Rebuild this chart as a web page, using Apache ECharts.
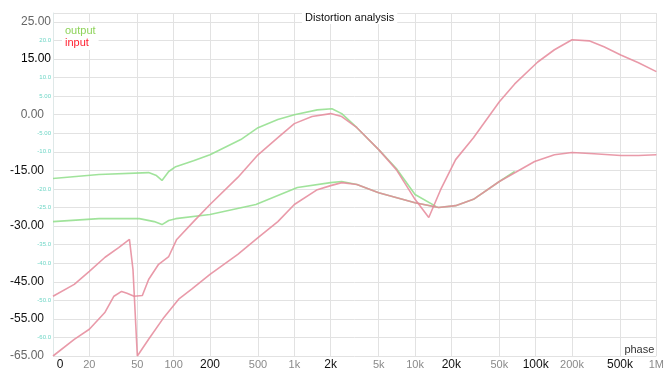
<!DOCTYPE html>
<html>
<head>
<meta charset="utf-8">
<script src="https://cdn.jsdelivr.net/npm/echarts@6/dist/echarts.min.js"></script>
<style>
  html, body { margin: 0; padding: 0; background: #fff; }
  #chart { width: 667px; height: 371px; }
</style>
</head>
<body>
<div id="chart"></div>
<script>
// x tick frequencies (Hz) and their labels; the first tick reads "0"
var xTickFreqs = [10, 20, 50, 100, 200, 500, 1e3, 2e3, 5e3, 1e4, 2e4, 5e4, 1e5, 2e5, 5e5, 1e6];
var xTickLabels = ["0", "20", "50", "100", "200", "500", "1k", "2k", "5k", "10k", "20k", "50k", "100k", "200k", "500k", "1M"];
var xBoldLabels = ["0", "200", "2k", "20k", "100k", "500k"];

// y labels drawn dark; the other 5 dB steps get small cyan labels
var yMajor = [25, 15, 0, -15, -30, -45, -55, -65];

// output, upper curve
var outAFreq = [10, 24, 62, 72, 80, 91, 104, 146, 200, 360, 500, 730, 1000, 1550, 2050, 2470, 3300, 5000, 7000, 10000, 14900];
var outAVal = [-17.2, -16.1, -15.6, -16.4, -17.7, -15.3, -14.0, -12.4, -10.8, -6.7, -3.5, -1.3, 0, 1.3, 1.6, 0.3, -3.5, -9.4, -14.5, -21.5, -24.7];

// output, lower curve
var outBFreq = [10, 24, 52, 69, 80, 91, 104, 200, 480, 1060, 2000, 2470, 3300, 5000, 10000, 15700, 21700, 30500, 50000, 67000];
var outBVal = [-28.8, -28.0, -28.0, -28.8, -29.6, -28.5, -28.0, -26.9, -24.2, -19.6, -18.3, -18.0, -18.8, -21.0, -23.7, -25.0, -24.5, -22.8, -18.0, -15.3];

// input, curve with the spike at ~40 Hz
var inAFreq = [10, 15, 20, 27, 35, 43, 46, 50, 62, 83, 110, 141, 200, 340, 500, 730, 1000, 1550, 2000, 2470, 3300, 5000, 10000, 15700, 21700, 30500, 50000, 98000, 143000, 200000, 305000, 507000, 711000, 1e6];
var inAVal = [-48.9, -45.7, -42.2, -38.4, -35.8, -33.6, -41.7, -65, -60.5, -54.6, -49.7, -47.0, -43.0, -37.6, -33.1, -28.8, -24.2, -20.2, -19.1, -18.3, -18.8, -21.0, -23.7, -25.0, -24.5, -22.8, -18.0, -12.6, -10.8, -10.2, -10.5, -11.0, -11.0, -10.8];

// input, curve with the dip at ~13 kHz
var inBFreq = [10, 15, 20, 27, 32, 37, 41, 47, 55, 62, 75, 91, 106, 146, 200, 340, 500, 730, 1000, 1400, 2000, 2470, 3300, 5000, 7000, 10000, 13000, 16300, 21700, 30500, 50000, 67000, 104000, 143000, 200000, 277000, 368000, 507000, 711000, 1e6];
var inBVal = [-65, -60.5, -57.8, -53.2, -48.9, -47.6, -48.1, -48.9, -48.7, -44.4, -40.3, -38.2, -33.6, -28.8, -24.2, -16.9, -10.8, -6.2, -2.4, -0.5, 0.3, -0.5, -3.5, -9.4, -14.8, -22.8, -27.7, -20.2, -12.1, -6.2, 3.5, 8.3, 14.2, 17.5, 20.2, 19.9, 18.3, 16.1, 14.0, 11.6];

var FONT = "'Liberation Sans', Arial, sans-serif";
var GREEN = "#8fde8a";
var PINK = "#e5889a";

function pts(freqs, vals) {
  return freqs.map(function (f, i) { return [Math.log10(f), vals[i]]; });
}

var xTickPos = xTickFreqs.map(function (f) { return Math.log10(f); });

function lineSeries(name, color, freqs, vals) {
  return {
    name: name,
    type: "line",
    data: pts(freqs, vals),
    showSymbol: false,
    smooth: false,
    lineStyle: { color: color, width: 1.6, opacity: 0.85 },
    itemStyle: { color: color }
  };
}

var chart = echarts.init(document.getElementById("chart"));
chart.setOption({
  animation: false,
  backgroundColor: "#fff",
  textStyle: { fontFamily: FONT },
  title: {
    text: "Distortion analysis",
    left: 302,
    top: 11,
    padding: [1, 3],
    backgroundColor: "#fff",
    textStyle: { fontSize: 11, fontWeight: "normal", color: "#111", fontFamily: FONT }
  },
  legend: {
    orient: "vertical",
    left: 62,
    top: 23,
    padding: [2, 3],
    itemGap: 1,
    itemWidth: 0,
    itemHeight: 0,
    icon: "none",
    backgroundColor: "#fff",
    textStyle: { fontSize: 11, fontFamily: FONT, padding: [0, 0, 0, -5] },
    data: [
      { name: "output", textStyle: { color: "#8ed35a" } },
      { name: "input", textStyle: { color: "#ff1f2f" } }
    ]
  },
  grid: { left: 53, right: 4, top: 13, bottom: 14 },
  xAxis: {
    type: "value",
    min: 1,
    max: 6,
    name: "phase",
    nameLocation: "end",
    nameGap: 0,
    nameTextStyle: { align: "right", verticalAlign: "bottom", fontSize: 11, color: "#333", padding: [0, 2, 1, 0], fontFamily: FONT },
    axisLine: { show: false, onZero: false },
    axisTick: { show: false, customValues: xTickPos },
    axisLabel: {
      customValues: xTickPos,
      margin: 3,
      formatter: function (v) {
        for (var i = 0; i < xTickPos.length; i++) {
          if (Math.abs(xTickPos[i] - v) < 1e-6) {
            var t = xTickLabels[i];
            if (i === 0) return "{z|" + t + "}";
            return xBoldLabels.indexOf(t) >= 0 ? "{b|" + t + "}" : "{g|" + t + "}";
          }
        }
        return "";
      },
      rich: {
        z: { color: "#111", fontSize: 12, fontFamily: FONT, padding: [0, 0, 0, 14] },
        b: { color: "#111", fontSize: 12, fontFamily: FONT },
        g: { color: "#8a8a8a", fontSize: 11, fontFamily: FONT }
      }
    },
    splitLine: { show: true, lineStyle: { color: "#e2e2e2", width: 1 } }
  },
  yAxis: {
    type: "value",
    min: -65,
    max: 27.4,
    interval: 5,
    axisLine: { show: true, lineStyle: { color: "#dfe8e8" } },
    axisTick: { show: false },
    splitLine: { show: true, lineStyle: { color: "#e2e2e2", width: 1 } },
    axisLabel: {
      margin: 1,
      showMaxLabel: false,
      formatter: function (v) {
        if (Math.abs(v / 5 - Math.round(v / 5)) > 1e-6) return "";
        if (yMajor.indexOf(v) >= 0) {
          var s = v.toFixed(2);
          if (v === 15) return "{w|" + s + "}";
          if (v === 25) return "{t|" + s + "}";
          if (v === 0 || v === -65) return "{g|" + s + "}";
          return "{b|" + s + "}";
        }
        var c = Math.abs(v) >= 10 ? v.toFixed(1) : v.toFixed(2);
        return "{c|" + c + "}";
      },
      rich: {
        b: { color: "#111", fontSize: 12, fontFamily: FONT, padding: [0, 8, 0, 0] },
        g: { color: "#666", fontSize: 12, fontFamily: FONT, padding: [0, 8, 0, 0] },
        t: { color: "#666", fontSize: 12, fontFamily: FONT, padding: [0, 1, 0, 0] },
        w: { color: "#000", fontSize: 12, backgroundColor: "#fff", padding: [1, 1, 1, 2], fontFamily: FONT },
        c: { color: "#6fd6c6", fontSize: 6, fontFamily: FONT, padding: [0, 1, 0, 0] }
      }
    }
  },
  series: [
    lineSeries("output", GREEN, outAFreq, outAVal),
    lineSeries("output", GREEN, outBFreq, outBVal),
    lineSeries("input", PINK, inAFreq, inAVal),
    lineSeries("input", PINK, inBFreq, inBVal)
  ]
});
</script>
</body>
</html>
